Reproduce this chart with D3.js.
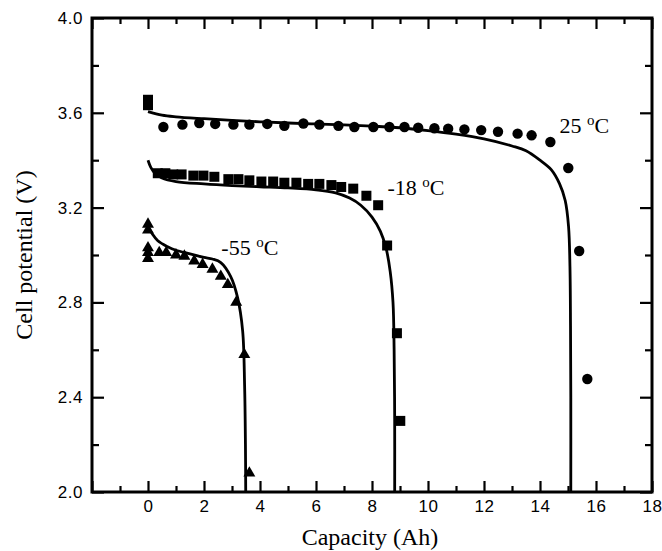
<!DOCTYPE html>
<html>
<head>
<meta charset="utf-8">
<script src="https://cdn.jsdelivr.net/npm/d3@7/dist/d3.min.js"></script>
<style>
  body { margin: 0; background: #fff; }
  svg { display: block; }
  .tick text { font-family: "Liberation Sans", Arial, sans-serif; font-size: 17px; letter-spacing: 0.5px; fill: #000; }
  .lbl { font-family: "Liberation Serif", "Times New Roman", serif; font-size: 22px; fill: #000; }
  .title { font-family: "Liberation Serif", "Times New Roman", serif; font-size: 24px; fill: #000; }
</style>
</head>
<body>
<svg id="chart" width="662" height="551"></svg>
<script>
// tick values
const xMajor = [-2, 0, 2, 4, 6, 8, 10, 12, 14, 16, 18];
const xMinor = [-1, 1, 3, 5, 7, 9, 11, 13, 15, 17];
const yMajor = [2.0, 2.4, 2.8, 3.2, 3.6, 4.0];
const yMinor = [2.2, 2.6, 3.0, 3.4, 3.8];

// measured points, 25 C (circles)
const cap25 = [0.55, 1.23, 1.83, 2.4, 3.05, 3.62, 4.26, 4.87, 5.55, 6.12, 6.8, 7.37, 8.05, 8.62, 9.16, 9.65, 10.23, 10.72, 11.3, 11.9, 12.5, 13.2, 13.7, 14.37, 15.01, 15.4, 15.69];
const v25 = [3.54, 3.55, 3.557, 3.553, 3.55, 3.55, 3.553, 3.545, 3.555, 3.55, 3.545, 3.54, 3.54, 3.54, 3.54, 3.537, 3.535, 3.533, 3.53, 3.527, 3.52, 3.512, 3.505, 3.477, 3.367, 3.017, 2.477];
// squares drawn at the start of the 25 C run
const cap25sq = [0, 0];
const v25sq = [3.655, 3.632];

// measured points, -18 C (squares)
const capM18 = [0.35, 0.62, 0.9, 1.2, 1.62, 1.98, 2.37, 2.87, 3.23, 3.62, 4.05, 4.47, 4.87, 5.3, 5.72, 6.12, 6.55, 6.9, 7.33, 7.8, 8.22, 8.54, 8.89, 9.01];
const vM18 = [3.345, 3.345, 3.34, 3.34, 3.335, 3.335, 3.33, 3.32, 3.32, 3.315, 3.31, 3.31, 3.305, 3.305, 3.3, 3.3, 3.295, 3.287, 3.28, 3.25, 3.21, 3.04, 2.67, 2.30];

// measured points, -55 C (triangles)
const capM55 = [0, 0, 0, 0, 0, 0.4, 0.65, 1.0, 1.3, 1.65, 1.95, 2.3, 2.6, 2.85, 3.15, 3.44, 3.62];
const vM55 = [3.13, 3.105, 3.03, 3.01, 2.985, 3.01, 3.01, 3.0, 2.995, 2.975, 2.96, 2.94, 2.91, 2.875, 2.80, 2.58, 2.08];

// model curves
const fit25x = [0, 0.5, 1, 2, 3, 4, 5, 6, 7, 8, 9, 10, 11, 12, 13, 13.5, 14, 14.4, 14.7, 14.9, 15.02, 15.07, 15.09, 15.1, 15.1];
const fit25y = [3.605, 3.59, 3.583, 3.575, 3.568, 3.562, 3.557, 3.553, 3.549, 3.544, 3.537, 3.525, 3.51, 3.49, 3.46, 3.44, 3.40, 3.36, 3.30, 3.23, 3.12, 2.95, 2.7, 2.4, 2.0];
const fitM18x = [0, 0.1, 0.25, 0.5, 1, 2, 3, 4, 5, 6, 6.7, 7.2, 7.6, 8.0, 8.3, 8.5, 8.65, 8.75, 8.79, 8.81, 8.81];
const fitM18y = [3.40, 3.37, 3.345, 3.325, 3.31, 3.30, 3.293, 3.288, 3.283, 3.275, 3.262, 3.24, 3.21, 3.16, 3.10, 3.03, 2.93, 2.8, 2.6, 2.3, 2.0];
const fitM55x = [0, 0.15, 0.35, 0.7, 1.0, 1.5, 2.0, 2.3, 2.6, 2.95, 3.2, 3.38, 3.45, 3.48, 3.49];
const fitM55y = [3.12, 3.09, 3.06, 3.035, 3.02, 3.005, 2.99, 2.983, 2.968, 2.91, 2.82, 2.68, 2.45, 2.2, 2.0];

const labels = [
  { t: '25 ', x: 14.7, y: 3.515 },
  { t: '-18 ', x: 8.55, y: 3.255 },
  { t: '-55 ', x: 2.62, y: 3.0 }
];

const svg = d3.select('#chart');
const x = d3.scaleLinear().domain([-2, 18]).range([92, 652]);
const y = d3.scaleLinear().domain([2, 4]).range([492, 18]);
const X0 = 92, X1 = 652, Y0 = 18, Y1 = 492;

const zip = (a, b) => a.map((v, i) => [v, b[i]]);

// axes with inward ticks on all four sides
function ticks(axisFn, pos, vals, len, labelPad, fmt) {
  const ax = axisFn.tickValues(vals).tickSizeInner(-len).tickSizeOuter(0).tickPadding(labelPad || 0);
  if (!labelPad) ax.tickFormat('');
  else if (fmt) ax.tickFormat(fmt);
  const g = svg.append('g').attr('transform', pos).call(ax);
  g.select('.domain').remove();
  g.selectAll('.tick line').attr('stroke', '#000').attr('stroke-width', 2.2);
  return g;
}
ticks(d3.axisBottom(x), `translate(0,${Y1})`, xMajor, 11, 8, d => d === -2 ? '' : d);
ticks(d3.axisBottom(x), `translate(0,${Y1})`, xMinor, 6);
ticks(d3.axisTop(x), `translate(0,${Y0})`, xMajor, 11);
ticks(d3.axisTop(x), `translate(0,${Y0})`, xMinor, 6);
ticks(d3.axisLeft(y), `translate(${X0},0)`, yMajor, 12, 9, d3.format('.1f'));
ticks(d3.axisLeft(y), `translate(${X0},0)`, yMinor, 7);
ticks(d3.axisRight(y), `translate(${X1},0)`, yMajor, 12);
ticks(d3.axisRight(y), `translate(${X1},0)`, yMinor, 7);

svg.append('rect')
  .attr('x', X0).attr('y', Y0).attr('width', X1 - X0).attr('height', Y1 - Y0)
  .attr('fill', 'none').attr('stroke', '#000').attr('stroke-width', 3);

// model lines
const line = d3.line().x(d => x(d[0])).y(d => y(d[1])).curve(d3.curveCatmullRom.alpha(0.5));
[[fit25x, fit25y], [fitM18x, fitM18y], [fitM55x, fitM55y]].forEach(([a, b]) => {
  svg.append('path').datum(zip(a, b)).attr('d', line)
    .attr('fill', 'none').attr('stroke', '#000').attr('stroke-width', 2.8);
});

// markers
svg.append('g').selectAll('circle').data(zip(cap25, v25)).join('circle')
  .attr('cx', d => x(d[0])).attr('cy', d => y(d[1])).attr('r', 5.2).attr('fill', '#000');
const sq = 10;
svg.append('g').selectAll('rect').data(zip(cap25sq, v25sq).concat(zip(capM18, vM18))).join('rect')
  .attr('x', d => x(d[0]) - sq / 2).attr('y', d => y(d[1]) - sq / 2)
  .attr('width', sq).attr('height', sq).attr('fill', '#000');
const tri = d3.symbol().type(d3.symbolTriangle).size(62);
svg.append('g').selectAll('path').data(zip(capM55, vM55)).join('path')
  .attr('transform', d => `translate(${x(d[0])},${y(d[1])})`)
  .attr('d', tri).attr('fill', '#000');

// temperature labels
labels.forEach(l => {
  const t = svg.append('text').attr('class', 'lbl').attr('x', x(l.x)).attr('y', y(l.y));
  t.append('tspan').text(l.t);
  t.append('tspan').attr('font-size', '15px').attr('dy', '-8').text('o');
  t.append('tspan').attr('dy', '8').text('C');
});

// axis titles
svg.append('text').attr('class', 'title').attr('x', 370).attr('y', 545)
  .attr('text-anchor', 'middle').text('Capacity (Ah)');
svg.append('text').attr('class', 'title').attr('text-anchor', 'middle')
  .attr('transform', `translate(32,${(Y0 + Y1) / 2}) rotate(-90)`).text('Cell potential (V)');
</script>
</body>
</html>
